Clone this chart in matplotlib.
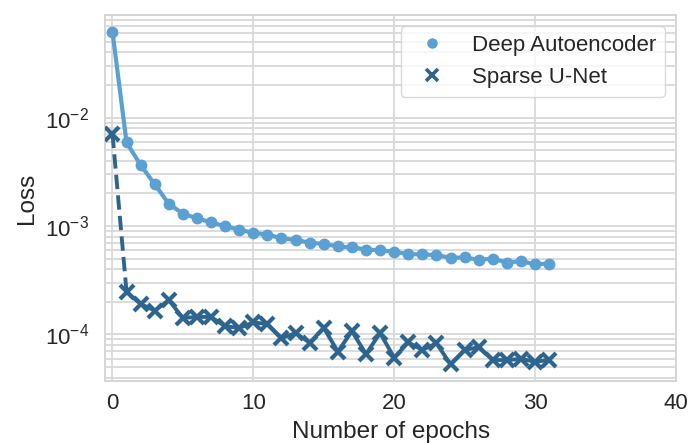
import matplotlib
matplotlib.use("Agg")
import matplotlib.pyplot as plt
from matplotlib.lines import Line2D
import seaborn as sns

epochs = list(range(32))
deep_autoencoder = [6.2e-2, 5.9e-3, 3.65e-3, 2.43e-3, 1.60e-3, 1.30e-3, 1.18e-3, 1.08e-3,
                    9.96e-4, 9.27e-4, 8.64e-4, 8.34e-4, 7.70e-4, 7.44e-4, 7.03e-4, 6.83e-4,
                    6.49e-4, 6.35e-4, 6.07e-4, 5.95e-4, 5.79e-4, 5.51e-4, 5.47e-4, 5.40e-4,
                    5.09e-4, 5.13e-4, 4.88e-4, 5.01e-4, 4.60e-4, 4.74e-4, 4.45e-4, 4.48e-4]
sparse_unet = [7.1e-3, 2.47e-4, 1.91e-4, 1.66e-4, 2.07e-4, 1.42e-4, 1.45e-4, 1.45e-4,
               1.19e-4, 1.15e-4, 1.29e-4, 1.25e-4, 9.24e-5, 1.03e-4, 8.4e-5, 1.15e-4,
               6.95e-5, 1.07e-4, 6.6e-5, 1.03e-4, 6.11e-5, 8.43e-5, 7.21e-5, 8.30e-5,
               5.30e-5, 7.21e-5, 7.62e-5, 5.81e-5, 5.81e-5, 5.94e-5, 5.61e-5, 5.81e-5]
labels = ["Deep Autoencoder", "Sparse U-Net"]
xticks = [0, 10, 20, 30, 40]

sns.set_style("whitegrid")
plt.rcParams['font.family'] = ['Liberation Sans', 'DejaVu Sans']

c_da = "#5aa0d2"
c_su = "#2e658f"

fig = plt.figure(figsize=(6.89, 4.43), dpi=100)
ax = fig.add_axes([0.153, 0.140, 0.828, 0.826])

ax.plot(epochs, deep_autoencoder, '-', color=c_da, lw=3.0, marker='o', ms=7.5, zorder=3)
ax.plot(epochs[:2], sparse_unet[:2], '--', color=c_su, lw=2.8, zorder=3)
ax.plot(epochs[1:], sparse_unet[1:], '-', color=c_su, lw=2.8, zorder=3)
ax.plot(epochs, sparse_unet, 'x', color=c_su, ms=10, mew=3, zorder=4)

ax.set_yscale('log')
ax.set_xlim(-0.5, 40)
ax.set_xticks(xticks)
ax.grid(True, which='major', color='#d9d9d9', lw=1.3)
ax.grid(True, which='minor', axis='y', color='#d9d9d9', lw=1.3)
for s in ax.spines.values():
    s.set_color('#d5d5d5')
    s.set_linewidth(1.4)

ax.tick_params(axis='both', which='both', length=0, labelsize=16, labelcolor='#262626')
ax.tick_params(axis='x', pad=9)
ax.tick_params(axis='y', pad=12)
ax.set_xlabel("Number of epochs", fontsize=17.5, color='#262626', labelpad=5)
ax.set_ylabel("Loss", fontsize=17.5, color='#262626', labelpad=5)

handles = [Line2D([], [], ls='none', marker='o', color=c_da, ms=6.5),
           Line2D([], [], ls='none', marker='x', color=c_su, ms=8, mew=2.6)]
leg = ax.legend(handles, labels, loc='upper right', fontsize=16, frameon=True)
leg.get_frame().set_edgecolor('#d0d0d0')
for t in leg.get_texts():
    t.set_color('#262626')

fig.savefig("out.png", dpi=100)
